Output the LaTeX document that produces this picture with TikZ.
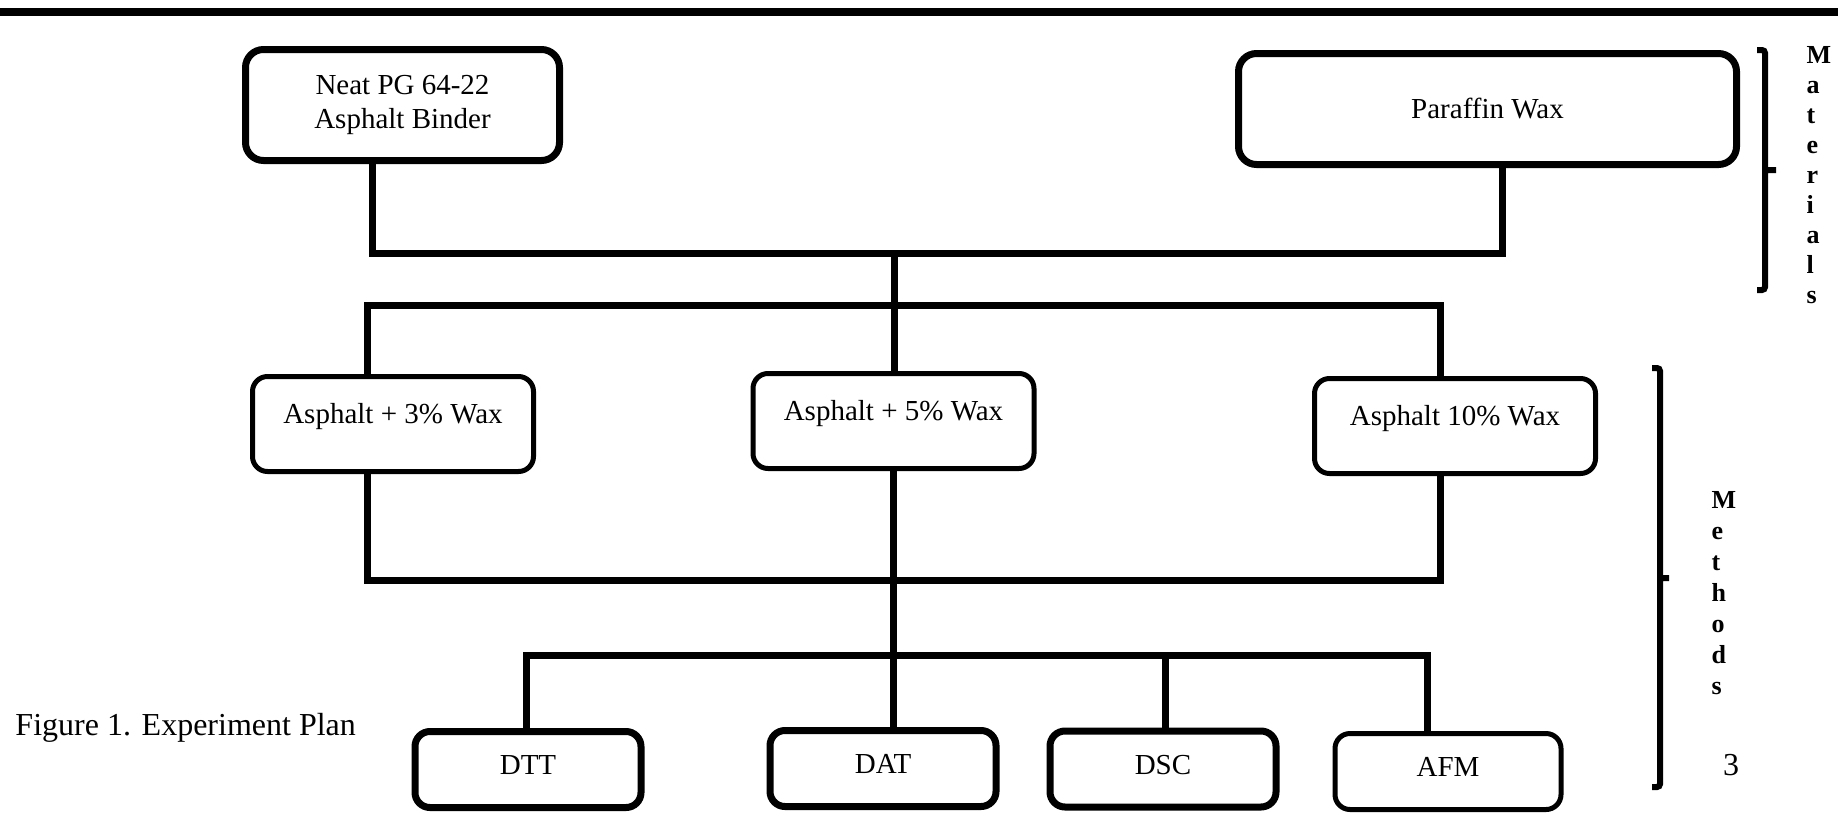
\documentclass[tikz,border=0pt]{standalone}
\usepackage{fontspec}                 % polices
\setmainfont{Liberation Serif}        % largeurs de Times New Roman
\usepackage{tikz}
\usetikzlibrary{positioning,          % placement relatif
           calc}                      % calculs de coordonnées

\begin{document}
\begin{tikzpicture}[x=1pt,y=-1pt,line width=7pt,
  boite/.style={draw,rounded corners=18pt,inner sep=0pt,align=center,font=\fontsize{29}{34}\selectfont},
  milieu/.style={boite,line width=5pt,rounded corners=15pt,minimum width=281pt,minimum height=95pt,text height=20pt,text depth=22pt},
  bas/.style={boite,rounded corners=15pt,minimum width=226pt,minimum height=76pt,text height=20pt,text depth=10pt},
  lettre/.style={anchor=base west,inner sep=0pt,font=\fontsize{26}{30}\selectfont\bfseries}]
\useasboundingbox (0,0) rectangle (1847,812);
\draw[line width=8pt](0,12)--(1838,12);
% materiaux
\node[boite,minimum width=314pt,minimum height=111pt] (neat) at (402.5,105) {Neat PG 64-22\\Asphalt Binder};
\node[boite,minimum width=498pt,minimum height=111pt] (par) at (1487.5,109) {Paraffin Wax};
% melanges
\node[milieu] (a3) at (393,424) {Asphalt + 3\% Wax};
\node[milieu] (a5) at (893.5,421) {Asphalt + 5\% Wax};
\node[milieu] (a10) at (1455,426) {Asphalt 10\% Wax};
% essais
\foreach \nom/\x/\y/\lw/\txt in {dtt/528/769.5/7/DTT,dat/883/768.5/7/DAT,dsc/1163/769/7/DSC,afm/1448/771.5/5/AFM}
  \node[bas,line width=\lw pt] (\nom) at (\x,\y) {\txt};
\coordinate (j1) at (372,253);\coordinate (j2) at (1502,253);\coordinate (j3) at (894,253);
\coordinate (k1) at (367,305);\coordinate (k2) at (1440,305);
\coordinate (l1) at (367,580);\coordinate (l2) at (1440,580);
\coordinate (m0) at (893,655);\coordinate (m1) at (526,655);\coordinate (m2) at (1427,655);\coordinate (m3) at (1165,655);
\draw(neat.south -| j1)|-(j2)--(par.south -| j2);
\draw(j3)--(a5.north -| j3);
\draw(a3.north -| k1)|-(k2)--(a10.north -| k2);
\draw(a3.south -| l1)|-(l2)--(a10.south -| l2);
\draw(a5.south -| m0)--(dat.north -| m0);
\draw(dtt.north -| m1)|-(m2)--(afm.north -| m2);
\draw(m3)--(dsc.north -| m3);
% accolades
\draw[line width=6pt,rounded corners=3pt](1757,50)--(1765,50)--(1765,290)--(1757,290)(1765,170)--(1776,170);
\draw[line width=6pt,rounded corners=3pt](1652,368)--(1660,368)--(1660,787)--(1652,787)(1660,578)--(1669,578);
\foreach \l [count=\i] in {M,a,t,e,r,i,a,l,s} \node[lettre] (mat\i) at (1803,63+30*\i-30) {\l};
\foreach \l [count=\i] in {M,e,t,h,o,d,s} \node[lettre] (met\i) at (1708,508+31*\i-31) {\l};
\node[anchor=base west,inner sep=0pt,font=\fontsize{32}{38}\selectfont] (legende) at (12,735) {Figure 1. Experiment Plan};
\node[anchor=base,inner sep=0pt,font=\fontsize{32}{38}\selectfont] (page) at (1731,775) {3};
\end{tikzpicture}
\end{document}
